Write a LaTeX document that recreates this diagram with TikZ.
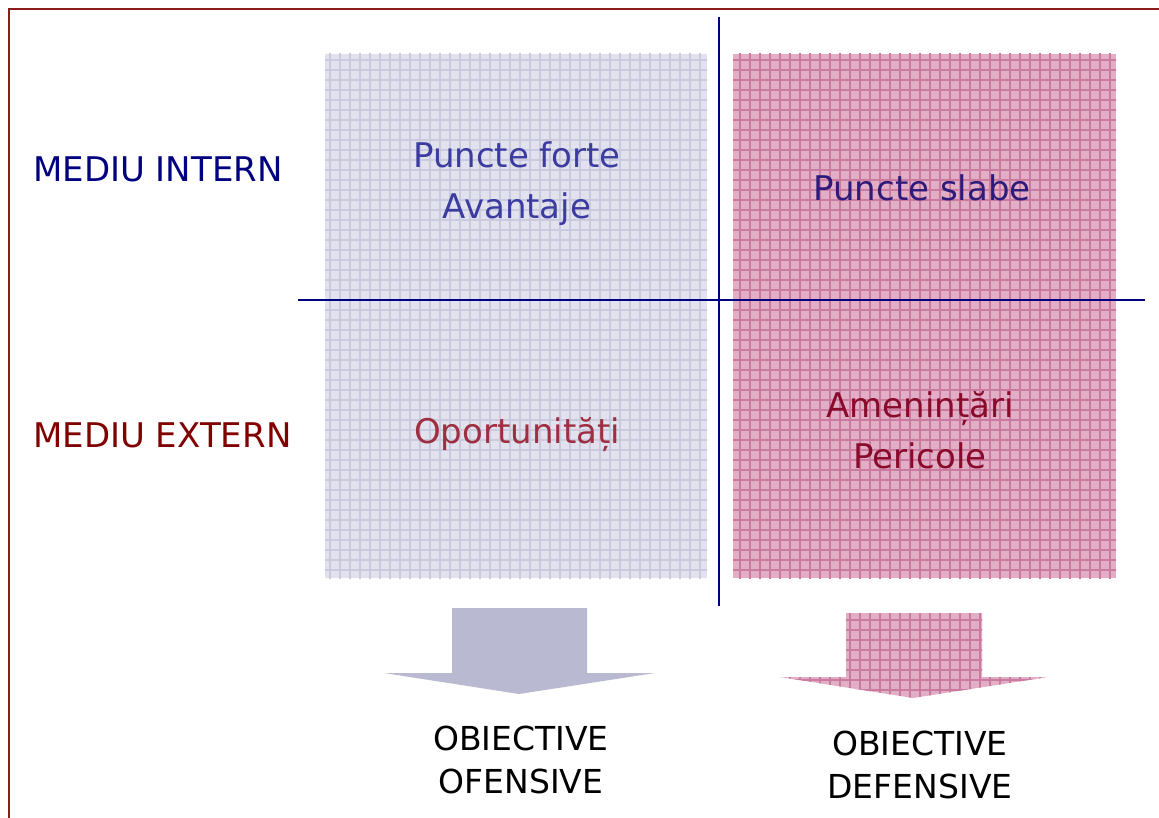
\documentclass[tikz,border=0pt]{standalone}
\usepackage{fontspec}
\setmainfont{DejaVu Sans}
\definecolor{framered}{HTML}{8B1C1C}
\definecolor{navy}{HTML}{000080}
\definecolor{extred}{HTML}{800000}
\definecolor{lavbase}{HTML}{E2E2EE}
\definecolor{lavgrid}{HTML}{CACADE}
\definecolor{pinkbase}{HTML}{E2AEC5}
\definecolor{pinkgrid}{HTML}{C97A9E}
\definecolor{arrowlav}{HTML}{B9B9D1}
\definecolor{fortecol}{HTML}{3C3CA0}
\definecolor{slabecol}{HTML}{2E1A7A}
\definecolor{oportcol}{HTML}{9E2E40}
\definecolor{amencol}{HTML}{8A0A2C}
\begin{document}
\begin{tikzpicture}[x=1pt,y=-1pt,
  lbl/.style={font=\fontsize{34}{51}\selectfont, inner sep=0pt, anchor=base},
  objlbl/.style={font=\fontsize{33}{42}\selectfont, inner sep=0pt, anchor=base, text=black},
  axis/.style={draw=navy, line width=2pt}]
\useasboundingbox (0,0) rectangle (1159,818);
\fill[white] (0,0) rectangle (1159,818);
% frame
\draw[framered, line width=2.8pt] (9,830) -- (9,9) -- (1170,9);
% left box
\begin{scope}
  \clip (325,54) rectangle (707,578);
  \fill[lavbase] (325,54) rectangle (707,578);
  \draw[lavgrid, line width=1.2pt, step=10pt] (320,50) grid (710,580);
\end{scope}
% right box
\begin{scope}
  \clip (733,54) rectangle (1116,578);
  \fill[pinkbase] (733,54) rectangle (1116,578);
  \draw[pinkgrid, line width=1.2pt, step=10pt] (730,50) grid (1120,580);
\end{scope}
% axes
\coordinate (hL) at (298,300);
\coordinate (hR) at (1145,300);
\coordinate (vT) at (719,17);
\coordinate (vB) at (719,606);
\draw[axis] (hL) -- (hR);
\draw[axis] (vT) -- (vB);
% left arrow
\fill[arrowlav] (452,608) -- (587,608) -- (587,673) -- (655,673) -- (519,694) -- (384,673) -- (452,673) -- cycle;
% right arrow
\begin{scope}
  \clip (846,613) -- (982,613) -- (982,677) -- (1048,677) -- (913,698) -- (780,677) -- (846,677) -- cycle;
  \fill[pinkbase] (770,600) rectangle (1060,710);
  \draw[pinkgrid, line width=1.2pt, step=10pt] (770,600) grid (1060,710);
\end{scope}
% labels
\node[lbl, anchor=base west, text=navy] (mi) at (33,182) {MEDIU INTERN};
\node[lbl, anchor=base west, text=extred] (me) at (33,447) {MEDIU EXTERN};
\node[lbl, text=fortecol] (pf) at (517,168) {Puncte forte};
\node[lbl, text=fortecol] (av) at (517,219) {Avantaje};
\node[lbl, text=slabecol] (ps) at (922,201) {Puncte slabe};
\node[lbl, text=oportcol] (op) at (517,443) {Oportunități};
\node[lbl, text=amencol] (am) at (920,417) {Amenințări};
\node[lbl, text=amencol] (pe) at (920,468) {Pericole};
\node[objlbl] (o1) at (521,750) {OBIECTIVE};
\node[objlbl] (o2) at (521,793) {OFENSIVE};
\node[objlbl] (o3) at (920,755) {OBIECTIVE};
\node[objlbl] (o4) at (920,798) {DEFENSIVE};
\end{tikzpicture}
\end{document}
